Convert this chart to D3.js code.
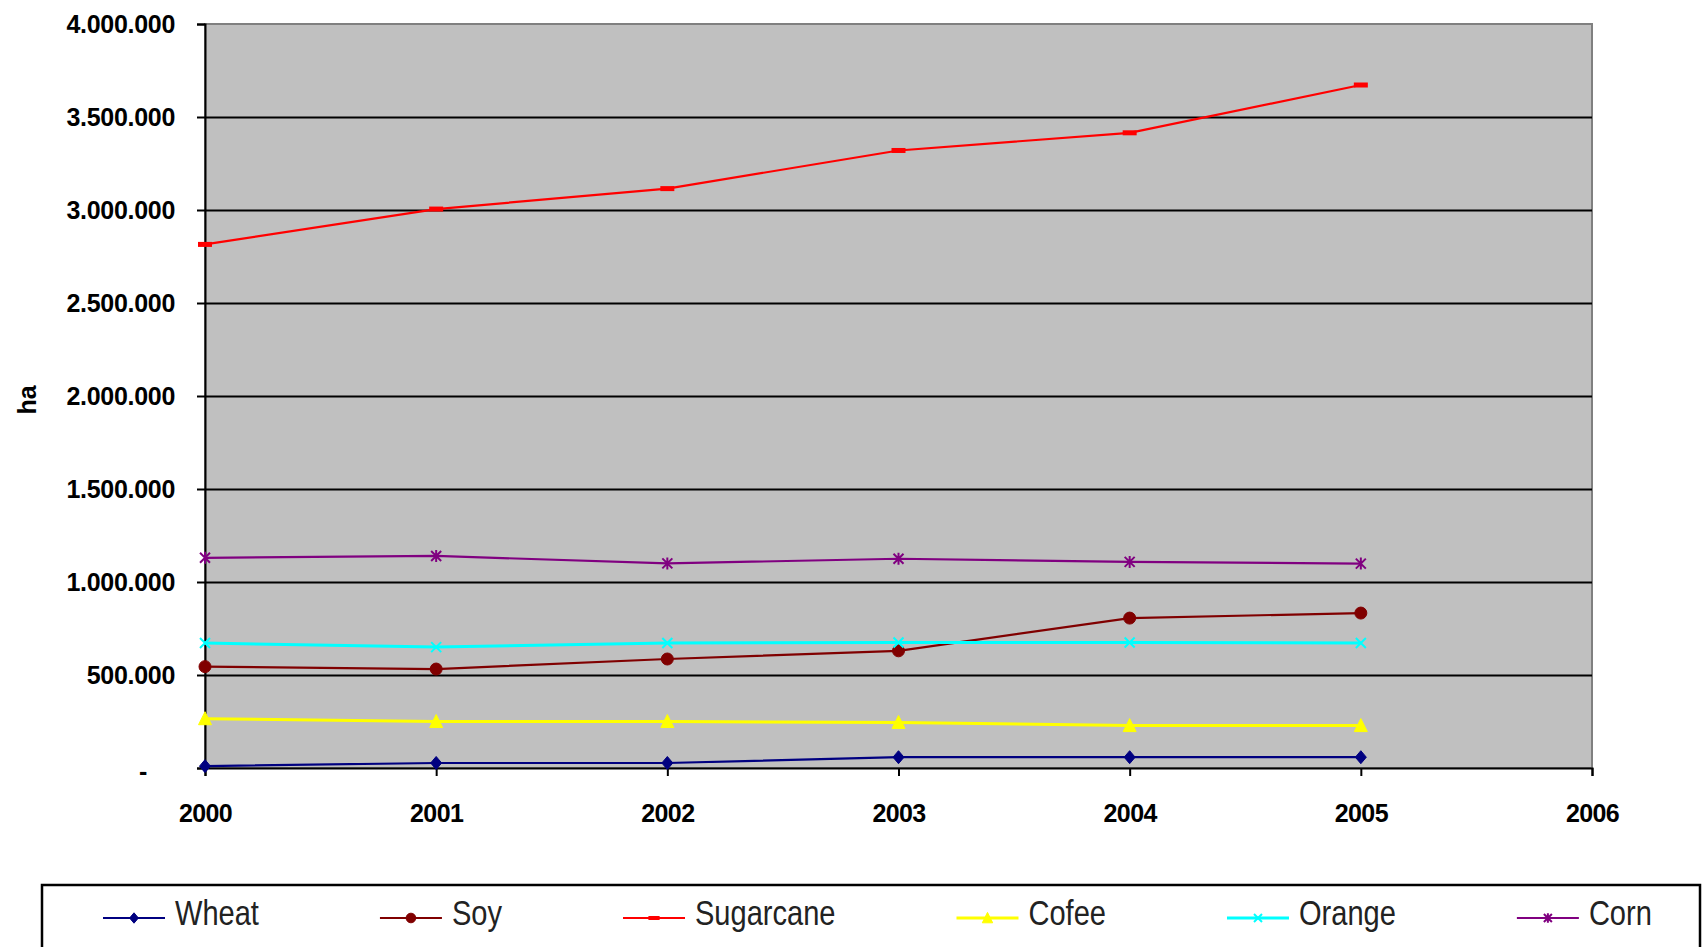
<!DOCTYPE html>
<html>
<head>
<meta charset="utf-8">
<script src="https://cdn.jsdelivr.net/npm/d3@7"></script>
<style>
  html, body { margin: 0; padding: 0; background: #ffffff; }
  svg { display: block; }
  text { font-family: "Liberation Sans", Arial, sans-serif; }
</style>
</head>
<body>
<svg id="chart" width="1703" height="947"></svg>
<script>
// ---- data ----
const years = [2000, 2001, 2002, 2003, 2004, 2005];
const xTickYears = [2000, 2001, 2002, 2003, 2004, 2005, 2006];
const yTickValues = [0, 500000, 1000000, 1500000, 2000000, 2500000, 3000000, 3500000, 4000000];
const seriesNames = ["Wheat", "Soy", "Sugarcane", "Cofee", "Orange", "Corn"];
const wheat     = [10000, 27000, 27000, 58000, 58000, 58000];
const soy       = [545000, 532000, 586000, 630000, 806000, 833000];
const sugarcane = [2815000, 3005000, 3115000, 3320000, 3415000, 3672000];
const cofee     = [265000, 250000, 250000, 245000, 228000, 228000];
const orange    = [672000, 650000, 672000, 675000, 675000, 672000];
const corn      = [1130000, 1140000, 1100000, 1125000, 1108000, 1099000];
const yAxisTitle = "ha";

// ---- styles ----
const colors = { Wheat: "#000080", Soy: "#800000", Sugarcane: "#ff0000", Cofee: "#ffff00", Orange: "#00ffff", Corn: "#800080" };
const markers = { Wheat: "diamond", Soy: "circle", Sugarcane: "dash", Cofee: "triangle", Orange: "x", Corn: "star" };
const valuesByName = { Wheat: wheat, Soy: soy, Sugarcane: sugarcane, Cofee: cofee, Orange: orange, Corn: corn };
const series = seriesNames.map(n => ({ name: n, values: valuesByName[n] }));

const svg = d3.select("#chart");
const plot = { left: 205, top: 24, right: 1592, bottom: 768 };

const x = d3.scaleLinear().domain([2000, 2006]).range([plot.left, plot.right]);
const y = d3.scaleLinear().domain([0, 4000000]).range([plot.bottom, plot.top]);

// plot background
svg.append("rect")
  .attr("x", plot.left).attr("y", plot.top)
  .attr("width", plot.right - plot.left).attr("height", plot.bottom - plot.top)
  .attr("fill", "#c0c0c0")
  .attr("stroke", "#808080").attr("stroke-width", 2);

// gridlines
const grid = svg.append("g").attr("transform", `translate(${plot.left},0)`)
  .call(d3.axisLeft(y).tickValues(yTickValues.filter(v => v > 0 && v < 4000000))
    .tickSize(-(plot.right - plot.left)).tickFormat(""));
grid.select(".domain").remove();
grid.selectAll("line").attr("stroke", "#000").attr("stroke-width", 2);

// y axis
const locale = d3.formatLocale({ decimal: ",", thousands: ".", grouping: [3], currency: ["", ""] });
const fmt = locale.format(",d");
const yAxis = svg.append("g").attr("transform", `translate(${plot.left},0)`)
  .call(d3.axisLeft(y).tickValues(yTickValues).tickSize(8).tickPadding(22)
    .tickFormat(d => d === 0 ? "-" : fmt(d)));
yAxis.select(".domain").attr("stroke", "#000").attr("stroke-width", 2);
yAxis.selectAll("line").attr("stroke", "#000").attr("stroke-width", 2);
yAxis.selectAll("text")
  .attr("font-size", 25).attr("font-weight", "bold").attr("fill", "#000")
  .attr("letter-spacing", "-0.3px")
  .style("font-family", '"Liberation Sans", Arial, sans-serif');
yAxis.selectAll(".tick").filter(d => d === 0).select("text").attr("dx", -28).attr("dy", "0.45em");

// x axis
const xAxis = svg.append("g").attr("transform", `translate(0,${plot.bottom})`)
  .call(d3.axisBottom(x).tickValues(xTickYears).tickSize(8).tickPadding(28).tickFormat(d3.format("d")));
xAxis.select(".domain").attr("stroke", "#000").attr("stroke-width", 2);
xAxis.selectAll("line").attr("stroke", "#000").attr("stroke-width", 2);
xAxis.selectAll("text")
  .attr("font-size", 25).attr("font-weight", "bold").attr("fill", "#000")
  .attr("letter-spacing", "-0.6px")
  .style("font-family", '"Liberation Sans", Arial, sans-serif');

// y axis title
svg.append("text")
  .attr("transform", `translate(36,${(plot.top + plot.bottom) / 2 + 4}) rotate(-90)`)
  .attr("text-anchor", "middle")
  .attr("font-size", 25).attr("font-weight", "bold").attr("fill", "#000")
  .text(yAxisTitle);

// marker drawing
function drawMarker(g, type, color, s = 1) {
  if (type === "diamond") {
    g.append("path").attr("d", `M0,${-6.5*s}L${5.5*s},0L0,${6.5*s}L${-5.5*s},0Z`).attr("fill", color).attr("stroke", color).attr("stroke-width", 1);
  } else if (type === "circle") {
    g.append("circle").attr("r", 6 * s).attr("fill", color).attr("stroke", color).attr("stroke-width", 1);
  } else if (type === "dash") {
    g.append("rect").attr("x", -7 * s).attr("y", -2.5 * s).attr("width", 14 * s).attr("height", 5 * s).attr("fill", color);
  } else if (type === "triangle") {
    g.append("path").attr("d", `M0,${-7*s}L${6.5*s},${6*s}L${-6.5*s},${6*s}Z`).attr("fill", color).attr("stroke", color).attr("stroke-width", 1);
  } else if (type === "x") {
    g.append("path").attr("d", `M${-5*s},${-5*s}L${5*s},${5*s}M${5*s},${-5*s}L${-5*s},${5*s}`).attr("stroke", color).attr("stroke-width", 2).attr("fill", "none");
  } else if (type === "star") {
    g.append("path").attr("d", `M${-5*s},${-5*s}L${5*s},${5*s}M${5*s},${-5*s}L${-5*s},${5*s}M0,${-6*s}L0,${6*s}`).attr("stroke", color).attr("stroke-width", 2).attr("fill", "none");
  }
}

// lines
const line = d3.line().x((d, i) => x(years[i])).y(d => y(d));
series.forEach(s => {
  svg.append("path").datum(s.values)
    .attr("d", line)
    .attr("fill", "none")
    .attr("stroke", colors[s.name])
    .attr("stroke-width", s.name === "Orange" || s.name === "Cofee" ? 3 : 2.2);
});
series.forEach(s => {
  s.values.forEach((v, i) => {
    const g = svg.append("g").attr("transform", `translate(${x(years[i])},${y(v)})`);
    drawMarker(g, markers[s.name], colors[s.name]);
  });
});

// legend
svg.append("rect")
  .attr("x", 42).attr("y", 885).attr("width", 1658).attr("height", 80)
  .attr("fill", "#fff").attr("stroke", "#000").attr("stroke-width", 2.5);

const legendLineY = 918, legendBaseY = 925;
let lx = 103;
const sampleLen = 62, textGap = 10, itemGap = 121, squeeze = 0.83;
series.forEach(s => {
  const g = svg.append("g").attr("transform", `translate(${lx},0)`);
  g.append("line").attr("x1", 0).attr("x2", sampleLen).attr("y1", legendLineY).attr("y2", legendLineY)
    .attr("stroke", colors[s.name]).attr("stroke-width", s.name === "Orange" || s.name === "Cofee" ? 3 : 2.2);
  const mg = g.append("g").attr("transform", `translate(${sampleLen / 2},${legendLineY})`);
  drawMarker(mg, markers[s.name], colors[s.name], 0.8);
  const tg = g.append("g").attr("transform", `translate(${sampleLen + textGap},${legendBaseY}) scale(${squeeze},1)`);
  const t = tg.append("text")
    .attr("x", 0).attr("y", 0)
    .attr("font-size", 35).attr("fill", "#222")
    .text(s.name);
  const w = t.node().getComputedTextLength() * squeeze;
  lx += sampleLen + textGap + w + itemGap;
});
</script>
</body>
</html>
